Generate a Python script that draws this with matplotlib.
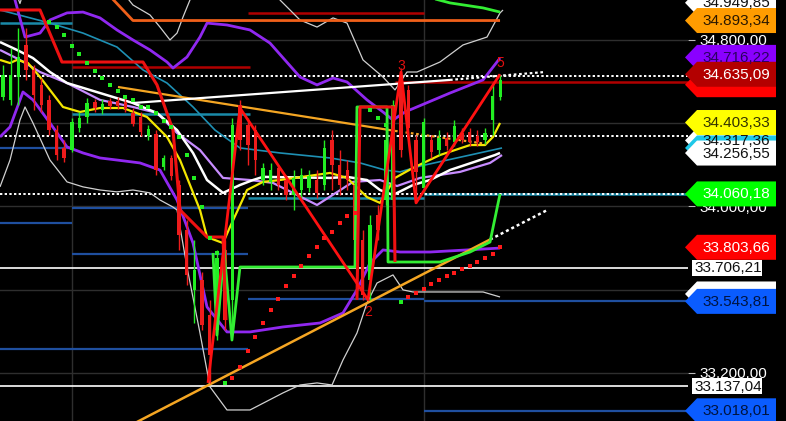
import matplotlib
matplotlib.use("Agg")
import matplotlib.pyplot as plt
from matplotlib.patches import Polygon, Rectangle

plt.rcParams['font.family'] = ['Liberation Sans', 'DejaVu Sans']

W_PX, H_PX = 786, 421

# candles, one per bar (bar index = list position)
opens = [34526, 34512, 34622, 34776, 34656, 34584, 34512, 34367, 34281, 34271,
         34377, 34430, 34502, 34463, 34507, 34507, 34502, 34449, 34430, 34339,
         34348, 34190, 34233, 34103, 33887, 33599, 33647, 33479, 33406, 33791,
         33551, 34487, 34391, 34367, 34127, 34118, 34185, 34127, 34055, 34079,
         34089, 34127, 34103, 34319, 34199, 34175, 34103, 33839, 33647, 33959,
         34031, 34031, 34632, 34560, 34319, 34089, 34319, 34271, 34329, 34310,
         34353, 34358, 34339, 34319, 34415, 34526]
closes = [34632, 34632, 34718, 34656, 34536, 34487, 34367, 34247, 34233, 34406,
          34425, 34497, 34473, 34492, 34483, 34483, 34468, 34396, 34358, 34372,
          34175, 34233, 34146, 33863, 33671, 33695, 33430, 33286, 33752, 33454,
          34391, 34319, 34295, 34223, 34185, 34175, 34103, 34055, 34137, 34151,
          34146, 34065, 34281, 34199, 34103, 34127, 33839, 33575, 33911, 33887,
          34319, 34487, 34271, 34377, 34166, 34406, 34262, 34329, 34291, 34387,
          34319, 34310, 34310, 34353, 34531, 34608]
highs = [34680, 34761, 34857, 34857, 34680, 34617, 34536, 34391, 34319, 34425,
         34454, 34521, 34516, 34516, 34521, 34526, 34521, 34473, 34454, 34391,
         34367, 34247, 34247, 34127, 33935, 33839, 33685, 33551, 33791, 33839,
         34425, 34512, 34425, 34391, 34209, 34209, 34199, 34151, 34175, 34185,
         34175, 34175, 34319, 34367, 34271, 34223, 34151, 33887, 33959, 34007,
         34415, 34512, 34665, 34584, 34343, 34425, 34343, 34367, 34358, 34415,
         34377, 34377, 34367, 34377, 34593, 34632]
lows = [34512, 34487, 34487, 34608, 34463, 34454, 34343, 34223, 34214, 34262,
        34358, 34401, 34454, 34444, 34468, 34468, 34454, 34387, 34339, 34319,
        34151, 34175, 34127, 33791, 33623, 33440, 33406, 33152, 33358, 33406,
        33382, 34271, 34199, 34151, 34103, 34079, 34079, 34031, 33983, 34031,
        34070, 34041, 34079, 34079, 34055, 34079, 33719, 33551, 33551, 33839,
        34007, 34007, 34238, 34343, 34017, 34070, 34233, 34247, 34271, 34291,
        34305, 34291, 34291, 34300, 34343, 34512]

# indicator lines as (bar, price)
yellow_ma = [(-0.39, 34704), (0.92, 34689), (1.83, 34704), (3.27, 34689), (4.84, 34622),
             (7.84, 34478), (10.07, 34454), (12.68, 34473), (15.69, 34473), (18.82, 34430),
             (21.44, 34334), (23.14, 34223), (25.75, 33983), (26.67, 33853), (28.76, 33824),
             (29.67, 33901), (31.90, 34079), (33.99, 34118), (36.21, 34127), (42.75, 34161),
             (44.97, 34137), (47.58, 34045), (49.28, 34017), (51.24, 34137), (53.59, 34185),
             (57.12, 34247), (61.05, 34295), (63.01, 34295), (64.05, 34334), (64.97, 34401)]
white_ma = [(-0.39, 34790), (1.83, 34752), (3.92, 34713), (6.14, 34646), (8.37, 34593),
            (12.68, 34545), (16.99, 34497), (20.13, 34449), (22.75, 34367), (24.84, 34257),
            (26.67, 34127), (28.76, 34065), (30.98, 34103), (32.68, 34127), (33.99, 34142),
            (42.75, 34137), (44.97, 34142), (47.58, 34127), (49.28, 34079), (50.98, 34055),
            (53.59, 34103), (55.82, 34127), (58.43, 34175), (62.35, 34223), (64.31, 34247),
            (64.97, 34257)]
lavender_ma = [(-0.39, 34752), (2.22, 34704), (4.84, 34646), (8.37, 34593), (12.68, 34512),
               (16.99, 34478), (20.13, 34449), (22.75, 34353), (25.75, 34271), (28.76, 34137),
               (32.29, 34127), (35.29, 34113), (41.05, 34007), (45.75, 34118), (49.28, 34127),
               (51.50, 34098), (54.51, 34137), (59.74, 34166), (63.66, 34209), (65.23, 34247)]
teal_ma = [(-0.39, 34944), (6.14, 34881), (10.46, 34833), (14.90, 34766), (18.30, 34656),
           (21.44, 34593), (24.84, 34478), (27.71, 34367), (30.98, 34281), (36.21, 34257),
           (42.75, 34233), (46.67, 34209), (49.93, 34175), (51.90, 34166), (54.51, 34194),
           (61.05, 34247), (65.23, 34281)]
purple_upper = [(0.65, 35088), (1.57, 34992), (2.88, 34814), (4.84, 34833), (6.14, 34896),
                (8.37, 34930), (10.46, 34934), (12.68, 34906), (14.90, 34848), (16.99, 34800),
                (19.22, 34752), (21.44, 34694), (22.22, 34665), (24.05, 34718), (25.75, 34814),
                (26.67, 34881), (29.28, 34872), (32.29, 34848), (34.90, 34785), (38.82, 34622),
                (41.05, 34584), (43.14, 34617), (44.97, 34598), (47.58, 34512), (49.67, 34454),
                (50.98, 34415), (52.55, 34454), (58.43, 34545), (62.75, 34608), (64.97, 34713)]
purple_lower = [(-0.39, 34334), (0.92, 34382), (2.61, 34550), (3.92, 34512), (6.14, 34401),
                (8.37, 34286), (10.46, 34257), (12.68, 34233), (14.90, 34223), (17.91, 34209),
                (20.52, 34175), (22.75, 34031), (24.84, 33824), (26.67, 33517), (29.28, 33397),
                (32.29, 33397), (36.60, 33421), (41.44, 33440), (44.44, 33488), (46.27, 33599),
                (47.97, 33728), (49.67, 33791), (51.90, 33781), (55.82, 33781), (64.97, 33800)]
silver_upper = [(14.90, 35064), (16.99, 34968), (19.22, 34920), (20.52, 34862), (21.83, 34800),
                (22.75, 34833), (23.53, 34910), (24.44, 34992), (25.36, 35088), (29.67, 35280),
                (34.90, 35088), (36.21, 34992), (38.82, 34896), (41.05, 34862), (43.14, 34906),
                (44.97, 34881), (47.06, 34704), (49.67, 34622), (51.24, 34560), (52.81, 34646),
                (54.12, 34646), (57.12, 34694), (60.13, 34776), (63.27, 34814), (64.97, 34930),
                (65.36, 34944)]
silver_upper_left = [(1.57, 35040), (2.22, 34975), (2.75, 35040)]
silver_lower = [(-0.39, 34094), (0.92, 34223), (2.22, 34415), (2.88, 34478), (3.92, 34401),
                (6.14, 34223), (8.37, 34118), (10.46, 34094), (12.68, 34079), (14.90, 34070),
                (16.99, 34079), (19.22, 34065), (20.52, 34031), (22.22, 33997), (22.75, 33983),
                (24.05, 33709), (25.75, 33392), (27.06, 33133), (29.28, 33022), (32.29, 33022),
                (36.60, 33104), (38.82, 33142), (41.05, 33152), (43.01, 33142), (44.44, 33262),
                (46.27, 33392), (47.58, 33536), (48.89, 33632), (50.98, 33671), (52.29, 33599),
                (53.59, 33589), (62.75, 33589), (64.97, 33565)]
orange_top = [(13.99, 35010), (16.99, 34893.34), (64.97, 34893.34)]
red_step = [(-0.39, 34944), (4.84, 34944), (7.71, 34694), (18.30, 34694), (20.13, 34584),
            (22.22, 34367), (23.14, 33983), (26.67, 33853), (28.76, 33853), (29.15, 33454)]
red_box = [(46.27, 33551), (46.67, 34478), (50.98, 34478), (51.24, 33733)]
green_top = [(54.51, 35016), (58.43, 34978), (62.75, 34954), (64.97, 34934)]
green_step = [(27.45, 33776), (27.97, 33382), (28.89, 33791), (29.93, 33358), (30.98, 33709),
              (46.01, 33709), (46.27, 34478), (50.20, 34478), (50.33, 33733), (57.12, 33733),
              (61.05, 33781), (63.66, 33829), (64.97, 34060.18)]
zigzag = [(26.80, 33152), (30.98, 34473), (47.71, 33551), (52.03, 34646), (53.99, 34017),
          (64.97, 34635.09)]
zigzag_labels = [('2', 47.71, 33551, -9), ('3', 52.03, 34646, 4), ('5', 64.97, 34635.09, 8)]

# trend lines: solid part, dotted extension
trend_orange_low = [(16.60, 32947), (63.66, 33841)]
trend_orange_low_ext = [(63.66, 33841), (71.11, 33982)]
trend_orange_up = [(15.03, 34574), (51.24, 34363)]
trend_orange_up_ext = [(51.24, 34363), (63.27, 34300)]
trend_white_up = [(16.99, 34497), (58.43, 34608)]
trend_white_up_ext = [(58.43, 34608), (70.85, 34646)]

# parabolic dots (bar, price)
sar_green = [(6, 34886), (7, 34862), (8, 34824), (9, 34771), (10, 34733), (11, 34689),
             (12, 34651), (13, 34617), (14, 34584), (15, 34555), (16, 34526), (17, 34512),
             (18, 34478), (19, 34478), (20, 34449), (21, 34411), (22, 34382), (23, 34334),
             (24, 34247), (25, 34137), (26, 33997), (27, 33848), (28, 33776), (29, 33152),
             (48, 34463), (49, 34425), (50, 34391), (52, 33541)]
sar_red = [(30, 33176), (31, 33229), (32, 33305), (33, 33373), (34, 33440), (35, 33503),
           (36, 33555), (37, 33618), (38, 33666), (39, 33714), (40, 33762), (41, 33805),
           (42, 33848), (43, 33877), (44, 33921), (45, 33954), (46, 33969),
           (53, 33565), (54, 33584), (55, 33603), (56, 33627), (57, 33647), (58, 33666),
           (59, 33680), (60, 33699), (61, 33714), (62, 33733), (63, 33752), (64, 33772),
           (65, 33803.66)]

# horizontal levels (from bar, to bar, price)
blue_levels = [(-0.39, 9.02, 34281), (-0.39, 9.02, 33921), (9.02, 32.03, 33993),
               (9.02, 32.03, 33772), (-0.39, 32.03, 33315), (32.03, 55.03, 33555),
               (55.03, 89.54, 33543.81), (55.03, 89.54, 33018.01)]
teal_levels = [(-0.39, 9.02, 34881), (9.02, 32.29, 34444), (32.03, 55.03, 34041),
               (55.03, 89.54, 34060)]
darkred_levels = [(32.03, 55.03, 34930), (9.02, 32.29, 34670), (51.24, 89.54, 34598)]
white_levels = [33706.21, 33137.04]
dotted_levels = [34627, 34339, 34060]

y_ticks = [33200, 33600, 34000, 34400, 34800]
y_ticks_shown = [33200, 34000, 34800]
v_grid = [9.02, 55.03]

# right-hand price tags: price, face colour, text colour (None = no visible text), pixel nudge
tags = [(34949.85, '#ffffff', '#111111', -6), (34893.34, '#ff9c00', '#2a1800', 0),
        (34716.22, '#8a00ff', '#2b0060', 0), (34585.00, '#ff0000', None, 0),
        (34635.09, '#b30000', '#ffffff', 0), (34317.36, '#ffffff', '#111111', 0),
        (34281.00, '#1ec8e8', None, 0), (34256.55, '#ffffff', '#111111', 0),
        (34403.33, '#ffff00', '#333300', 0), (34060.18, '#00ff00', '#ffffff', 0),
        (33803.66, '#ff0000', '#ffffff', 0), (33565.00, '#ffffff', None, -3),
        (33543.81, '#0a5cff', '#001440', 0), (33018.01, '#0a5cff', '#001440', 0)]
box_labels = [33706.21, 33137.04]


def eu(v):
    return f"{v:,.2f}".replace(",", " ").replace(".", ",").replace(" ", ".")


def line(pts, **kw):
    t, p = zip(*pts)
    ax.plot(t, p, solid_capstyle='butt', **kw)


fig = plt.figure(figsize=(W_PX / 100, H_PX / 100), dpi=100, facecolor='black')
ax = fig.add_axes([0, 0, 688 / W_PX, 1], facecolor='black')
ax.set_xlim(-0.39, 89.54)
ax.set_ylim(32969, 34992)
for s in ax.spines.values():
    s.set_visible(False)

ax.set_axisbelow(True)
ax.set_yticks(y_ticks)
ax.set_yticklabels([eu(v) if v in y_ticks_shown else '' for v in y_ticks])
ax.yaxis.tick_right()
ax.tick_params(axis='y', colors='#bbbbbb', labelcolor='white', labelsize=11, length=5, pad=3)
ax.set_xticks(v_grid)
ax.set_xticklabels([])
ax.tick_params(axis='x', length=0)
ax.grid(True, color='#2e2e2e', lw=1)

# levels
for x0, x1, p in blue_levels:
    ax.hlines(p, x0, x1, color='#1f4f9f', lw=1.6, zorder=1)
for x0, x1, p in teal_levels:
    ax.hlines(p, x0, x1, color='#1a8aa8', lw=1.8, zorder=1)
for x0, x1, p in darkred_levels:
    ax.hlines(p, x0, x1, color='#b00000', lw=1.8, zorder=1)
for p in white_levels:
    ax.axhline(p, color='white', lw=1.2, zorder=1)
for p in dotted_levels:
    ax.axhline(p, color='white', lw=1.4, ls=(0, (1.2, 1.2)), zorder=1.2)

# bands and averages
line(silver_upper, color='#d0d0d0', lw=0.9, zorder=2)
line(silver_upper_left, color='#d0d0d0', lw=0.9, zorder=2)
line(silver_lower, color='#d0d0d0', lw=0.9, zorder=2)
line(teal_ma, color='#1e90b4', lw=1.2, zorder=2.6)
line(purple_upper, color='#9028f0', lw=2.0, zorder=2.7)
line(purple_lower, color='#9028f0', lw=2.0, zorder=2.7)
line(lavender_ma, color='#c78cff', lw=1.6, zorder=2.8)
line(white_ma, color='white', lw=1.8, zorder=2.9)
line(yellow_ma, color='#f2e600', lw=1.6, zorder=3)

# trend lines
line(orange_top, color='#f0601a', lw=2.0, zorder=3.2)
line(trend_orange_low, color='#f5a623', lw=1.8, zorder=3.4)
line(trend_orange_low_ext, color='white', lw=1.8, ls=(0, (1.2, 1.2)), zorder=3.4)
line(trend_orange_up, color='#f5a623', lw=1.6, zorder=3.4)
line(trend_orange_up_ext, color='#f5a623', lw=1.6, ls=(0, (1.2, 1.2)), zorder=3.4)
line(trend_white_up, color='white', lw=1.6, zorder=3.4)
line(trend_white_up_ext, color='white', lw=1.6, ls=(0, (1.2, 1.2)), zorder=3.4)

# candles
idx = list(range(len(opens)))
colors = ['#22ee22' if c >= o else '#ee1c1c' for o, c in zip(opens, closes)]
ax.vlines(idx, lows, highs, colors=colors, lw=1.0, zorder=4)
ax.bar(idx, [c - o for o, c in zip(opens, closes)], bottom=opens, width=0.45,
       color=colors, zorder=4)

# step lines and zigzag
line(green_top, color='#33ee33', lw=2.0, zorder=5)
line(green_step, color='#33ee33', lw=2.0, zorder=5)
line(red_step, color='#ee1111', lw=2.2, zorder=5.2)
line(red_box, color='#ee1111', lw=2.2, zorder=5.2)
line(zigzag, color='#ff1111', lw=2.0, zorder=6)
for txt, t, p, dy in zigzag_labels:
    ax.annotate(txt, (t, p), xytext=(0, dy), textcoords='offset points', color='#e01010',
                fontsize=10, ha='center', va='center', zorder=7)

st, sp = zip(*sar_green)
ax.scatter(st, sp, s=7, color='#22ee22', marker='s', linewidths=0, zorder=6.5)
st, sp = zip(*sar_red)
ax.scatter(st, sp, s=7, color='#ff1a1a', marker='s', linewidths=0, zorder=6.5)

# price tags in pixel space on top of everything
tag_ax = fig.add_axes([0, 0, 1, 1])
tag_ax.set_xlim(0, W_PX)
tag_ax.set_ylim(H_PX, 0)
tag_ax.axis('off')


def price_px(p):
    return H_PX - ax.transData.transform((0, p))[1]


for p, face, tc, nudge in tags:
    y = price_px(p) + nudge
    h = 12.5
    tag_ax.add_patch(Polygon([(685, y), (697, y - h), (776, y - h), (776, y + h), (697, y + h)],
                             closed=True, facecolor=face, edgecolor='none'))
    if tc:
        tag_ax.text(702, y + 0.5, eu(p), color=tc, fontsize=11, ha='left', va='center')

for p in box_labels:
    y = price_px(p)
    tag_ax.add_patch(Rectangle((692, y - 8), 70, 16, facecolor='white', edgecolor='none'))
    tag_ax.text(694, y + 0.5, eu(p), color='#111111', fontsize=11, ha='left', va='center')

fig.savefig('out.png', dpi=100, facecolor='black')
